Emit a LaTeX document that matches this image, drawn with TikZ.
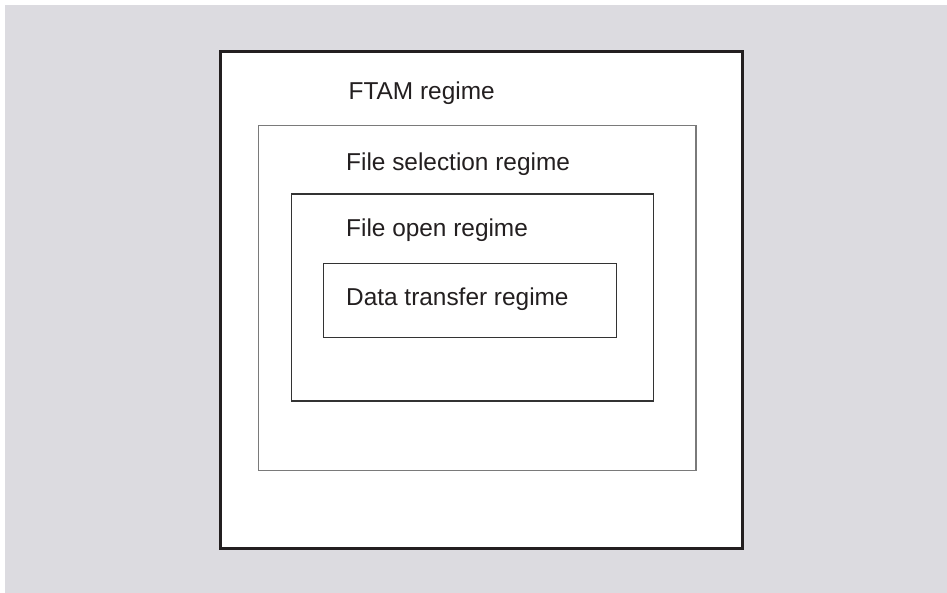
\documentclass[tikz,border=0pt]{standalone}
\usepackage{fontspec}
\setmainfont{Liberation Sans}
\definecolor{bggray}{HTML}{DCDBE0}
\definecolor{ink}{HTML}{231F20}
\definecolor{midgray}{HTML}{7A7A7A}
\definecolor{darkline}{HTML}{333333}
\begin{document}
\begin{tikzpicture}[x=1pt,y=-1pt,
  regime/.style={draw=darkline,line width=1.1pt,fill=none},
  label/.style={anchor=base west,inner sep=0pt,text=ink,font=\fontsize{24.4}{28}\selectfont}]
\useasboundingbox (0,0) rectangle (947,593);
\fill[white] (0,0) rectangle (947,593);
\fill[bggray] (5,5) rectangle (947,593);
% outer box
\draw[draw=ink,line width=3pt,fill=white] (220.5,51.5) rectangle (742.5,548);
% nested boxes
\draw[regime,draw=midgray,line width=1.3pt] (258.5,125.5) rectangle (696,470.5);
\draw[regime] (291.5,194) rectangle (653.5,401);
\draw[regime] (323.5,263.5) rectangle (616.5,337.5);
% labels
\node[label] (ftam) at (348.5,99.5) {FTAM regime};
\node[label] (fsel) at (346,170.2) {File selection regime};
\node[label] (fopen) at (346,236.9) {File open regime};
\node[label] (dtr) at (346,305.9) {Data transfer regime};
\end{tikzpicture}
\end{document}
